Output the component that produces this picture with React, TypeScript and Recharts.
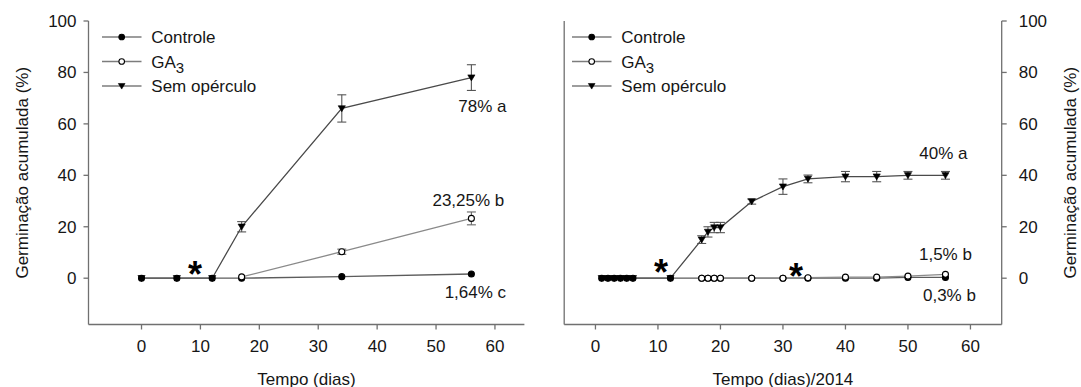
import React from 'react';
import { LineChart, Line, XAxis, YAxis, ErrorBar, Legend, ReferenceDot } from 'recharts';

const FONT = '"Liberation Sans", Arial, Helvetica, sans-serif';
const TEXT = '#161616';
const FRAME = '#707070';

const X_TICKS = [0, 10, 20, 30, 40, 50, 60];
const Y_TICKS = [0, 20, 40, 60, 80, 100];
const Y_DOMAIN: [number, number] = [-18, 100];

// ---- 2013 ----
const days2013 = [0, 6, 12, 17, 34, 56];
const controle2013 = [0, 0, 0, 0, 0.6, 1.64];
const ga3Days2013 = [17, 34, 56];
const ga32013 = [0.5, 10.3, 23.25];
const ga3Err2013 = [null, 1, 2.5];
const sem2013 = [0, 0, 0, 20, 66, 78];
const semErr2013 = [null, null, null, 2, 5.3, 5];
const letters2013 = { controle: 'c', ga3: 'b', sem: 'a' };
const stars2013 = [{ x: 9.1, y: 1.7 }];

// ---- 2014 ----
const days2014 = [1, 2, 3, 4, 5, 6, 12, 17, 18, 19, 20, 25, 30, 34, 40, 45, 50, 56];
const controle2014 = [0, 0, 0, 0, 0, 0, 0, 0, 0, 0, 0, 0, 0, 0, 0, 0, 0.3, 0.3];
const ga3Days2014 = [17, 18, 19, 20, 25, 30, 34, 40, 45, 50, 56];
const ga32014 = [0, 0, 0, 0, 0, 0, 0.2, 0.4, 0.4, 0.8, 1.5];
const sem2014 = [0, 0, 0, 0, 0, 0, 0, 15, 18, 19.7, 19.7, 29.8, 35.6, 38.6, 39.5, 39.5, 40, 40];
const semErr2014 = [null, null, null, null, null, null, null, 1.5, 2, 2, 2, 1, 3, 1.5, 2, 2, 1.5, 1.5];
const letters2014 = { controle: 'b', ga3: 'b', sem: 'a' };
const stars2014 = [{ x: 10.5, y: 2.4 }, { x: 32.1, y: 0.7 }];

type Pt = { x: number; y: number; e: number | null };
const toPoints = (xs: number[], ys: number[], es?: (number | null)[]): Pt[] =>
  xs.map((x, i) => ({ x, y: ys[i], e: es ? es[i] : null }));

type Kind = 'filled' | 'open' | 'triangle';
type Key = 'controle' | 'ga3' | 'sem';

const SERIES_STYLE: Record<Key, { name: string; kind: Kind; stroke: string }> = {
  controle: { name: 'Controle', kind: 'filled', stroke: '#5c5c5c' },
  ga3: { name: 'GA3', kind: 'open', stroke: '#8a8a8a' },
  sem: { name: 'Sem opérculo', kind: 'triangle', stroke: '#4a4a4a' },
};
const LEGEND_ROWS: Key[] = ['controle', 'ga3', 'sem'];

function markerShape(kind: Kind, cx: number, cy: number, s: number, key?: string) {
  if (kind === 'triangle') {
    const a = s * 1.2;
    const b = s * 0.9;
    const c = s * 1.1;
    return (
      <path
        key={key}
        d={`M${cx - a},${cy - b}L${cx + a},${cy - b}L${cx},${cy + c}Z`}
        fill="#000"
        stroke="#000"
        strokeWidth={0.6}
        strokeLinejoin="round"
      />
    );
  }
  return (
    <circle
      key={key}
      cx={cx}
      cy={cy}
      r={s}
      fill={kind === 'filled' ? '#000' : '#fff'}
      stroke="#000"
      strokeWidth={1.1}
    />
  );
}

const dotFor = (kind: Kind) => (p: any) =>
  p.cx == null || p.cy == null ? <g key={`d-${p.index}`} /> : markerShape(kind, p.cx, p.cy, 3, `d-${p.index}`);

const fmt = (v: number) => String(v).replace('.', ',');

const endLabel = (letter: string, n: number, dx: number, dy: number) => (props: any) => {
  if (props.index !== n - 1) return null;
  const x = props.x ?? props.viewBox?.x;
  const y = props.y ?? props.viewBox?.y;
  return (
    <text
      key="end-label"
      x={x + dx}
      y={y + dy}
      textAnchor="middle"
      dominantBaseline="central"
      fontSize={17}
      fill={TEXT}
    >
      {`${fmt(props.value)}% ${letter}`}
    </text>
  );
};

function LegendBox() {
  return (
    <svg width={170} height={80} style={{ display: 'block', overflow: 'visible' }}>
      {LEGEND_ROWS.map((k, i) => {
        const y = 12 + i * 24.5;
        const st = SERIES_STYLE[k];
        return (
          <g key={k}>
            <line x1={2} x2={41.5} y1={y} y2={y} stroke="#7c7c7c" strokeWidth={1.3} />
            {markerShape(st.kind, 21.7, y, 2.8)}
            <text x={51.3} y={y + 6} fontSize={17} fill={TEXT}>
              {k === 'ga3' ? (
                <>
                  GA<tspan fontSize={15} dy={5}>3</tspan>
                </>
              ) : (
                st.name
              )}
            </text>
          </g>
        );
      })}
    </svg>
  );
}

type LabelPos = { dx: number; dy: number };

type PanelProps = {
  side: 'left' | 'right';
  width: number;
  xDomain: [number, number];
  title: string;
  xLabel: string;
  controle: Pt[];
  ga3: Pt[];
  sem: Pt[];
  letters: Record<Key, string>;
  labelPos: Record<Key, LabelPos>;
  stars: { x: number; y: number }[];
  legendLeft: number;
};

function Panel(props: PanelProps) {
  const { side, width, xDomain, title, xLabel, controle, ga3, sem, letters, labelPos, stars, legendLeft } = props;
  const isLeft = side === 'left';
  const axisW = isLeft ? 88.5 : 79.3;
  const frameW = isLeft ? 0 : 24.2;
  const tickStyle = { fontSize: 17, fill: TEXT };
  const yLabel = 'Germinação acumulada (%)';

  return (
    <LineChart
      width={width}
      height={387}
      margin={{ top: 21, right: isLeft ? 15.6 : 0, bottom: 0, left: 0 }}
    >
      <XAxis
        type="number"
        dataKey="x"
        domain={xDomain}
        ticks={X_TICKS}
        allowDataOverflow
        height={62.5}
        stroke={FRAME}
        strokeWidth={1.3}
        tickSize={5}
        tickMargin={10.5}
        tick={tickStyle}
        label={{ value: xLabel, position: 'insideBottom', offset: 2.5, fontSize: 17, fill: TEXT }}
      />
      <XAxis
        xAxisId="frameTop"
        orientation="top"
        type="number"
        domain={xDomain}
        allowDataOverflow
        height={0}
        stroke={FRAME}
        strokeWidth={1.3}
        tick={false}
        tickLine={false}
        label={{ value: title, position: 'insideTopRight', offset: 9, fontSize: 17, fontWeight: 700, fill: '#000' }}
      />
      <YAxis
        type="number"
        orientation={isLeft ? 'left' : 'right'}
        domain={Y_DOMAIN}
        ticks={Y_TICKS}
        allowDataOverflow
        width={axisW}
        stroke={FRAME}
        strokeWidth={1.3}
        tickSize={5}
        tickMargin={isLeft ? 7 : 12}
        tick={tickStyle}
        label={{
          value: yLabel,
          angle: -90,
          position: isLeft ? 'insideLeft' : 'insideRight',
          offset: isLeft ? 21.5 : 11,
          fontSize: 17,
          fill: TEXT,
          style: { textAnchor: 'middle' },
        }}
      />
      <YAxis
        yAxisId="frameSide"
        type="number"
        orientation={isLeft ? 'right' : 'left'}
        domain={Y_DOMAIN}
        allowDataOverflow
        width={frameW}
        stroke={FRAME}
        strokeWidth={1.3}
        tick={false}
        tickLine={false}
      />

      <Line
        name={SERIES_STYLE.sem.name}
        data={sem}
        dataKey="y"
        stroke={SERIES_STYLE.sem.stroke}
        strokeWidth={1.3}
        dot={dotFor('triangle')}
        activeDot={false}
        isAnimationActive={false}
        label={endLabel(letters.sem, sem.length, labelPos.sem.dx, labelPos.sem.dy)}
      >
        <ErrorBar dataKey="e" direction="y" width={4.5} stroke="#555" strokeWidth={1.1} />
      </Line>
      <Line
        name={SERIES_STYLE.controle.name}
        data={controle}
        dataKey="y"
        stroke={SERIES_STYLE.controle.stroke}
        strokeWidth={1.3}
        dot={dotFor('filled')}
        activeDot={false}
        isAnimationActive={false}
        label={endLabel(letters.controle, controle.length, labelPos.controle.dx, labelPos.controle.dy)}
      />
      <Line
        name={SERIES_STYLE.ga3.name}
        data={ga3}
        dataKey="y"
        stroke={SERIES_STYLE.ga3.stroke}
        strokeWidth={1.3}
        dot={dotFor('open')}
        activeDot={false}
        isAnimationActive={false}
        label={endLabel(letters.ga3, ga3.length, labelPos.ga3.dx, labelPos.ga3.dy)}
      >
        <ErrorBar dataKey="e" direction="y" width={4.5} stroke="#666" strokeWidth={1.1} />
      </Line>

      {stars.map((s, i) => (
        <ReferenceDot
          key={`star-${i}`}
          x={s.x}
          y={s.y}
          r={1}
          fill="none"
          stroke="none"
          label={{ value: '*', position: 'center', fontSize: 36, fontWeight: 700, fill: '#000' }}
        />
      ))}

      <Legend
        layout="horizontal"
        verticalAlign="middle"
        align="center"
        content={() => <LegendBox />}
        wrapperStyle={{ left: legendLeft, top: 24.5, width: 170, height: 80 }}
      />
    </LineChart>
  );
}

export default function App() {
  return (
    <div
      style={{
        position: 'absolute',
        left: 0,
        top: 0,
        width: 1081,
        height: 387,
        background: '#fff',
        fontFamily: FONT,
        overflow: 'hidden',
      }}
    >
      <div style={{ position: 'absolute', left: 0, top: 0 }}>
        <Panel
          side="left"
          width={540}
          xDomain={[-9, 65]}
          title="2013"
          xLabel="Tempo (dias)"
          controle={toPoints(days2013, controle2013)}
          ga3={toPoints(ga3Days2013, ga32013, ga3Err2013)}
          sem={toPoints(days2013, sem2013, semErr2013)}
          letters={letters2013}
          labelPos={{ sem: { dx: 11, dy: 28.5 }, ga3: { dx: -3, dy: -17.5 }, controle: { dx: 4, dy: 19 } }}
          stars={stars2013}
          legendLeft={100}
        />
      </div>
      <div style={{ position: 'absolute', left: 540, top: 0 }}>
        <Panel
          side="right"
          width={541}
          xDomain={[-5, 65]}
          title="2014"
          xLabel="Tempo (dias)/2014"
          controle={toPoints(days2014, controle2014)}
          ga3={toPoints(ga3Days2014, ga32014)}
          sem={toPoints(days2014, sem2014, semErr2014)}
          letters={letters2014}
          labelPos={{ sem: { dx: -2, dy: -22 }, ga3: { dx: 0, dy: -19.4 }, controle: { dx: 4, dy: 18 } }}
          stars={stars2014}
          legendLeft={30}
        />
      </div>
    </div>
  );
}
